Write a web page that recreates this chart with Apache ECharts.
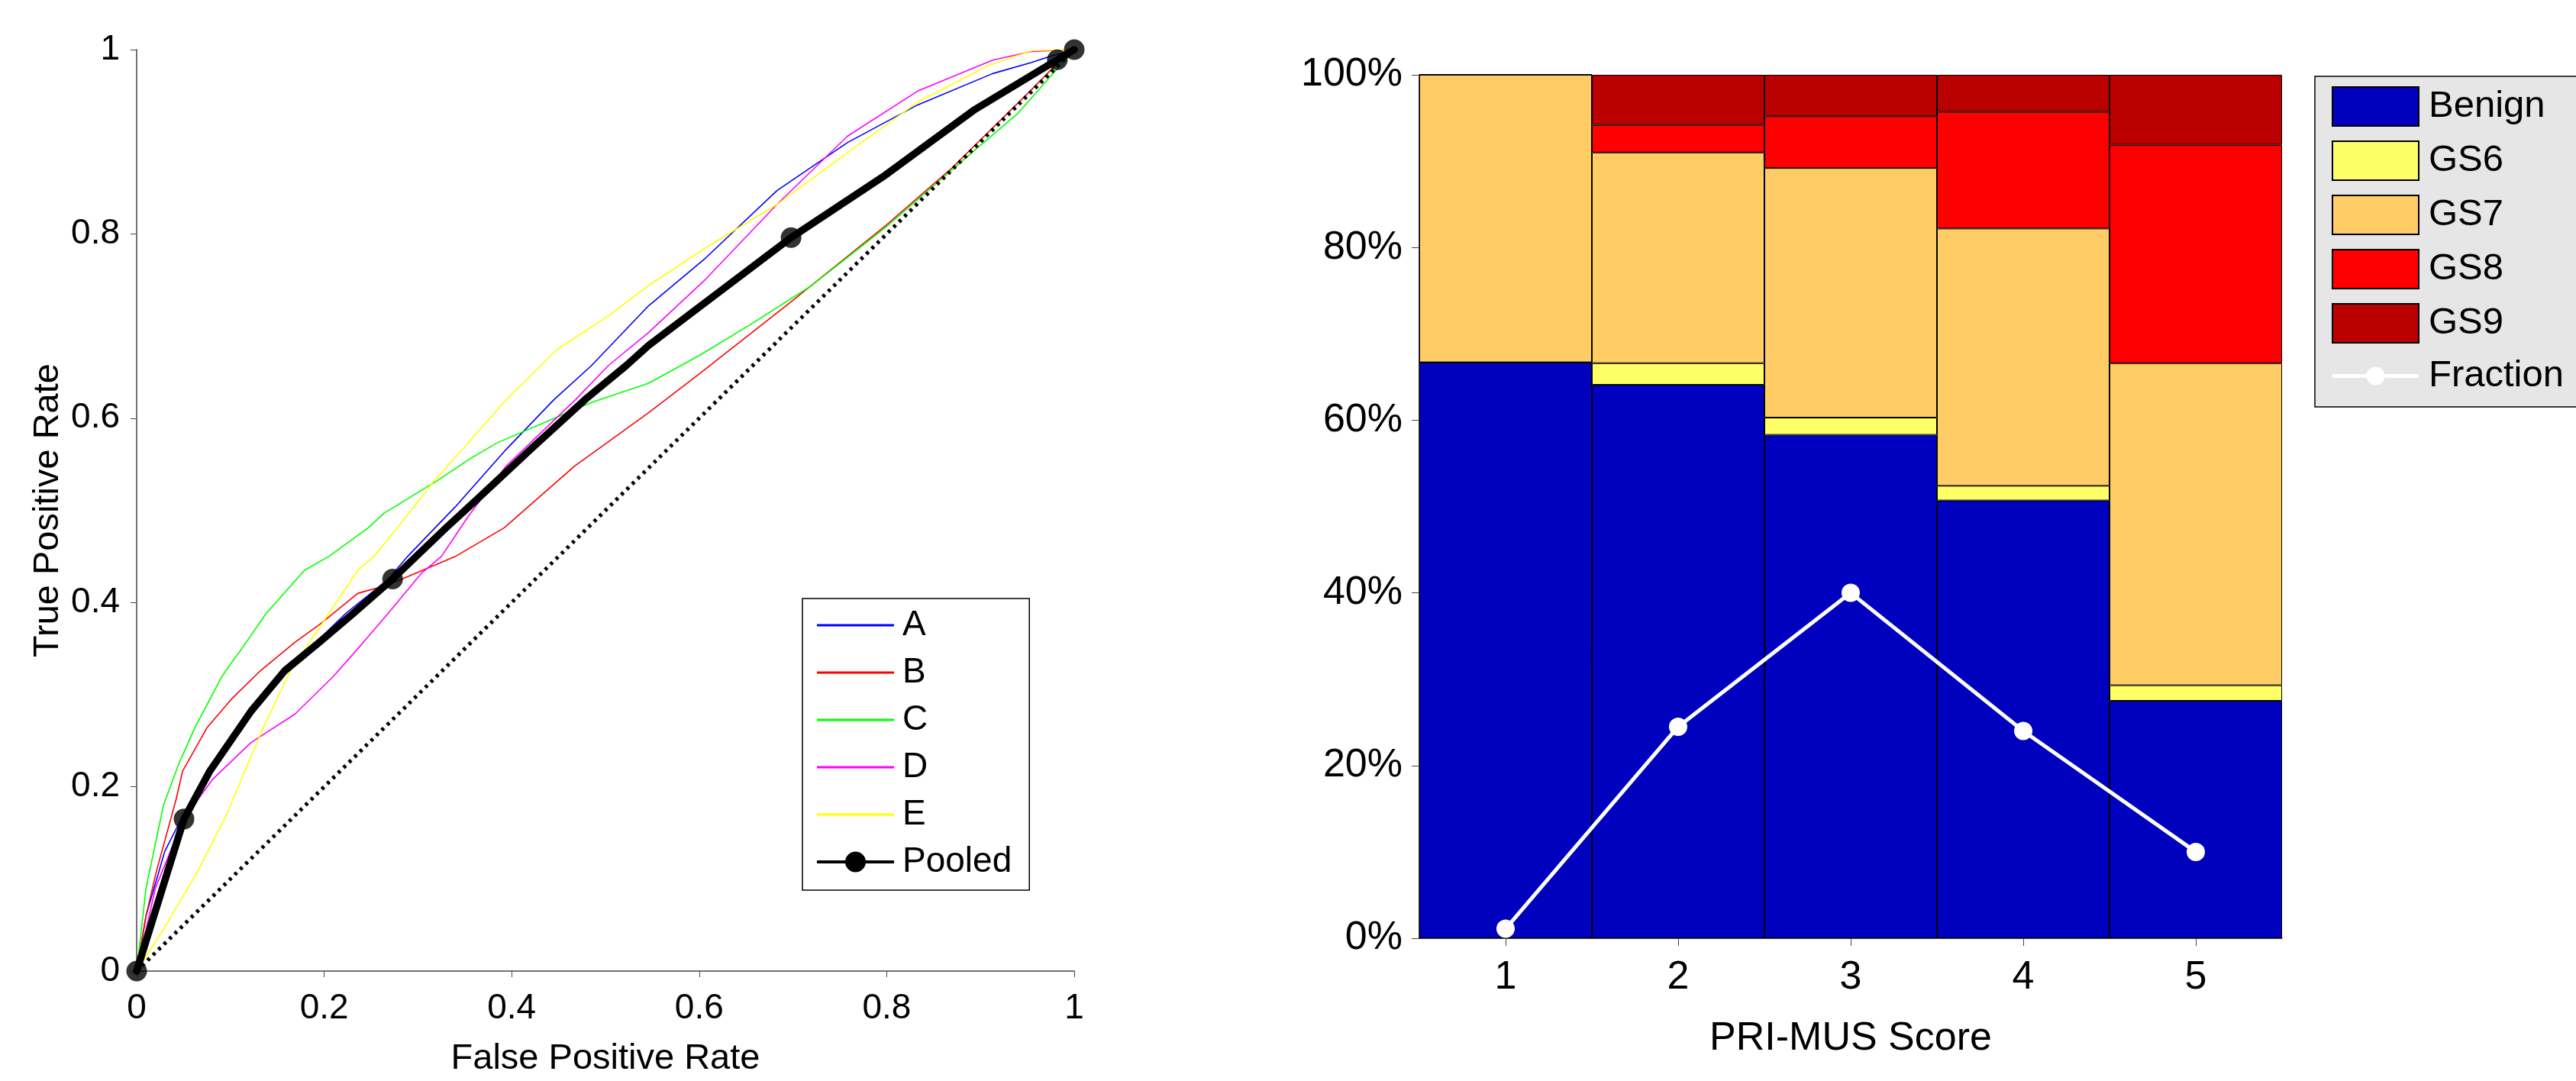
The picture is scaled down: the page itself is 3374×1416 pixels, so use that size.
<!DOCTYPE html>
<html>
<head>
<meta charset="utf-8">
<script src="https://cdn.jsdelivr.net/npm/echarts@6/dist/echarts.min.js"></script>
<style>
html,body{margin:0;padding:0;background:#fff;}
#chart{width:3374px;height:1416px;}
</style>
</head>
<body>
<div id="chart"></div>
<script>
// ---------- Left panel: ROC curves ([FPR, TPR]) ----------
const rocA = [[0,0],[0.01,0.06],[0.03,0.13],[0.055,0.18],[0.08,0.225],[0.125,0.285],[0.164,0.33],[0.223,0.388],[0.268,0.425],[0.289,0.45],[0.34,0.504],[0.394,0.566],[0.445,0.62],[0.485,0.657],[0.546,0.722],[0.607,0.774],[0.683,0.847],[0.758,0.899],[0.833,0.94],[0.913,0.974],[0.954,0.986],[0.975,0.993],[1,1]];
const rocB = [[0,0],[0.01,0.06],[0.021,0.108],[0.042,0.186],[0.049,0.217],[0.075,0.264],[0.101,0.295],[0.132,0.326],[0.169,0.357],[0.195,0.376],[0.236,0.41],[0.268,0.419],[0.319,0.441],[0.34,0.45],[0.392,0.481],[0.467,0.548],[0.546,0.606],[0.6,0.648],[0.7,0.728],[0.8,0.81],[0.87,0.872],[0.95,0.952],[0.982,0.985],[1,1]];
const rocC = [[0,0],[0.01,0.09],[0.0286,0.18],[0.045,0.225],[0.062,0.264],[0.091,0.32],[0.117,0.357],[0.138,0.388],[0.179,0.435],[0.205,0.45],[0.247,0.481],[0.264,0.497],[0.322,0.533],[0.354,0.555],[0.384,0.573],[0.441,0.598],[0.485,0.617],[0.546,0.638],[0.6,0.668],[0.652,0.7],[0.72,0.744],[0.8,0.808],[0.87,0.87],[0.94,0.931],[0.98,0.977],[1,1]];
const rocD = [[0,0],[0.02,0.09],[0.05,0.165],[0.081,0.208],[0.122,0.248],[0.169,0.279],[0.21,0.32],[0.242,0.357],[0.268,0.388],[0.304,0.432],[0.325,0.45],[0.354,0.494],[0.394,0.548],[0.468,0.62],[0.503,0.657],[0.546,0.693],[0.607,0.751],[0.683,0.832],[0.758,0.906],[0.833,0.955],[0.913,0.9886],[0.954,0.998],[1,1]];
const rocE = [[0,0],[0.029,0.046],[0.065,0.108],[0.096,0.17],[0.122,0.233],[0.135,0.264],[0.164,0.326],[0.205,0.388],[0.236,0.435],[0.253,0.45],[0.278,0.481],[0.318,0.533],[0.351,0.57],[0.394,0.62],[0.449,0.675],[0.503,0.711],[0.546,0.744],[0.607,0.785],[0.683,0.832],[0.758,0.888],[0.833,0.943],[0.909,0.983],[0.955,0.999],[1,1]];
const rocPooled = [[0,0],[0.0505,0.165],[0.078,0.217],[0.122,0.282],[0.158,0.326],[0.195,0.357],[0.231,0.388],[0.273,0.4255],[0.33,0.481],[0.362,0.511],[0.42,0.566],[0.478,0.62],[0.522,0.657],[0.546,0.679],[0.607,0.726],[0.698,0.796],[0.796,0.862],[0.894,0.935],[0.982,0.989],[1,1]];
const pooledMarkers = [[0,0],[0.0505,0.165],[0.273,0.4255],[0.698,0.796],[0.982,0.989],[1,1]];
const chanceLine = [[0,0],[1,1]];
const rocNames = ['A','B','C','D','E','Pooled'];

// ---------- Right panel: stacked composition by PRI-MUS score (%) ----------
const scores = ['1','2','3','4','5'];
const benign = [66.7, 64.1, 58.3, 50.7, 27.5];
const gs6    = [0,    2.5,  2.0,  1.7,  1.8];
const gs7    = [33.3, 24.4, 28.9, 29.8, 37.3];
const gs8    = [0,    3.2,  6.0,  13.5, 25.3];
const gs9    = [0,    5.8,  4.8,  4.3,  8.1];
const fraction = [1.1, 24.5, 40.0, 24.0, 10.0];
const stackNames = ['Benign','GS6','GS7','GS8','GS9','Fraction'];

const FONT = 'Liberation Sans, Arial, Helvetica, sans-serif';
const chart = echarts.init(document.getElementById('chart'), null, {renderer:'canvas'});

const thinIcon = 'path://M0,0H101V3H0Z';
const pooledIcon = 'path://M0,15H101V19H0Z M37,17A13.5,13.5 0 1 1 64,17A13.5,13.5 0 1 1 37,17Z';
const fractionIcon = 'path://M0,23H113V28H0Z M44.5,25.5A12,12 0 1 1 68.5,25.5A12,12 0 1 1 44.5,25.5Z';

const rocColors = ['#0000ff','#ff0000','#00ff00','#ff00ff','#ffff00'];
const rocData = [rocA, rocB, rocC, rocD, rocE];

const series = [];
rocData.forEach((d, i) => {
  series.push({
    name: rocNames[i], type:'line', xAxisIndex:0, yAxisIndex:0,
    data: d, symbol:'none', smooth:false,
    lineStyle:{color:rocColors[i], width:1.6}, itemStyle:{color:rocColors[i]},
    z: 2, silent:true
  });
});
series.push({
  name:'chance', type:'line', xAxisIndex:0, yAxisIndex:0, data: chanceLine,
  symbol:'none', lineStyle:{color:'#000', width:5, type:[4,6], cap:'butt'}, z:3, silent:true
});
series.push({
  name:'Pooled', type:'line', xAxisIndex:0, yAxisIndex:0, data: rocPooled,
  symbol:'none', lineStyle:{color:'#000', width:9.5, join:'round', cap:'round'}, itemStyle:{color:'#000'}, z:4, silent:true
});
series.push({
  name:'Pooled', type:'scatter', xAxisIndex:0, yAxisIndex:0, data: pooledMarkers,
  symbol:'circle', symbolSize:27, itemStyle:{color:'#000'}, z:5, silent:true
});

const barColors = ['#0000bf','#ffff66','#ffcc66','#ff0000','#bb0000'];
[benign, gs6, gs7, gs8, gs9].forEach((d, i) => {
  series.push({
    name: stackNames[i], type:'bar', xAxisIndex:1, yAxisIndex:1, stack:'gs',
    data: d, barWidth:'100%', barCategoryGap:'0%',
    itemStyle:{color:barColors[i], borderColor:'#000', borderWidth:1},
    silent:true, z:2
  });
});
series.push({
  name:'Fraction', type:'line', xAxisIndex:1, yAxisIndex:1, data: fraction,
  symbol:'circle', symbolSize:24, lineStyle:{color:'#fff', width:5},
  itemStyle:{color:'#fff'}, z:10, silent:true
});

const option = {
  animation:false,
  backgroundColor:'#fff',
  textStyle:{fontFamily:FONT, color:'#000'},
  grid:[
    {left:179, top:65, width:1228, height:1228, containLabel:false},
    {left:1859, top:98, width:1130, height:1131, containLabel:false}
  ],
  xAxis:[
    {type:'value', gridIndex:0, min:0, max:1, interval:0.2,
     name:'False Positive Rate', nameLocation:'middle', nameGap:92,
     nameTextStyle:{fontSize:47, color:'#000', fontFamily:FONT},
     axisLine:{show:true, onZero:false, lineStyle:{color:'#444', width:1.5}},
     axisTick:{show:true, inside:false, length:8, lineStyle:{color:'#444'}},
     axisLabel:{fontSize:46, color:'#000', margin:26, fontFamily:FONT},
     splitLine:{show:false}},
    {type:'category', gridIndex:1, data:scores, boundaryGap:true,
     name:'PRI-MUS Score', nameLocation:'middle', nameGap:106,
     nameTextStyle:{fontSize:52, color:'#000', fontFamily:FONT},
     axisLine:{show:true, onZero:false, lineStyle:{color:'#000', width:1.5}},
     axisTick:{show:true, inside:false, alignWithLabel:true, length:10, lineStyle:{color:'#444'}},
     axisLabel:{fontSize:52, color:'#000', margin:26, fontFamily:FONT},
     splitLine:{show:false}}
  ],
  yAxis:[
    {type:'value', gridIndex:0, min:0, max:1, interval:0.2,
     name:'True Positive Rate', nameLocation:'middle', nameGap:92,
     nameTextStyle:{fontSize:47, color:'#000', fontFamily:FONT},
     axisLine:{show:true, onZero:false, lineStyle:{color:'#444', width:1.5}},
     axisTick:{show:true, inside:false, length:8, lineStyle:{color:'#444'}},
     axisLabel:{fontSize:46, color:'#000', margin:22, fontFamily:FONT},
     splitLine:{show:false}},
    {type:'value', gridIndex:1, min:0, max:100, interval:20,
     axisLine:{show:true, onZero:false, lineStyle:{color:'#000', width:1.5}},
     axisTick:{show:true, inside:false, length:10, lineStyle:{color:'#444'}},
     axisLabel:{fontSize:52, color:'#000', margin:22, fontFamily:FONT, formatter:'{value}%'},
     splitLine:{show:false}}
  ],
  legend:[
    {orient:'vertical', left:1051, top:784,
     data:[
       {name:'A', icon:thinIcon},{name:'B', icon:thinIcon},{name:'C', icon:thinIcon},
       {name:'D', icon:thinIcon},{name:'E', icon:thinIcon},{name:'Pooled', icon:pooledIcon}
     ],
     itemWidth:101, itemHeight:34, itemGap:16,
     padding:[12,23,14,19],
     backgroundColor:'#fff', borderColor:'#000', borderWidth:1.5, borderRadius:0,
     selectedMode:false,
     textStyle:{fontSize:46, color:'#000', fontFamily:FONT, padding:[0,0,0,6]}},
    {orient:'vertical', left:3032, top:100,
     data:[
       {name:'Benign'},{name:'GS6'},{name:'GS7'},{name:'GS8'},{name:'GS9'},
       {name:'Fraction', icon:fractionIcon}
     ],
     icon:'rect',
     itemWidth:113, itemHeight:51, itemGap:18,
     padding:[13,40,16,22],
     backgroundColor:'#e6e6e6', borderColor:'#000', borderWidth:1.5, borderRadius:0,
     selectedMode:false,
     textStyle:{fontSize:49, color:'#000', fontFamily:FONT, padding:[0,0,0,8]}}
  ],
  series: series
};
chart.setOption(option);
</script>
</body>
</html>
